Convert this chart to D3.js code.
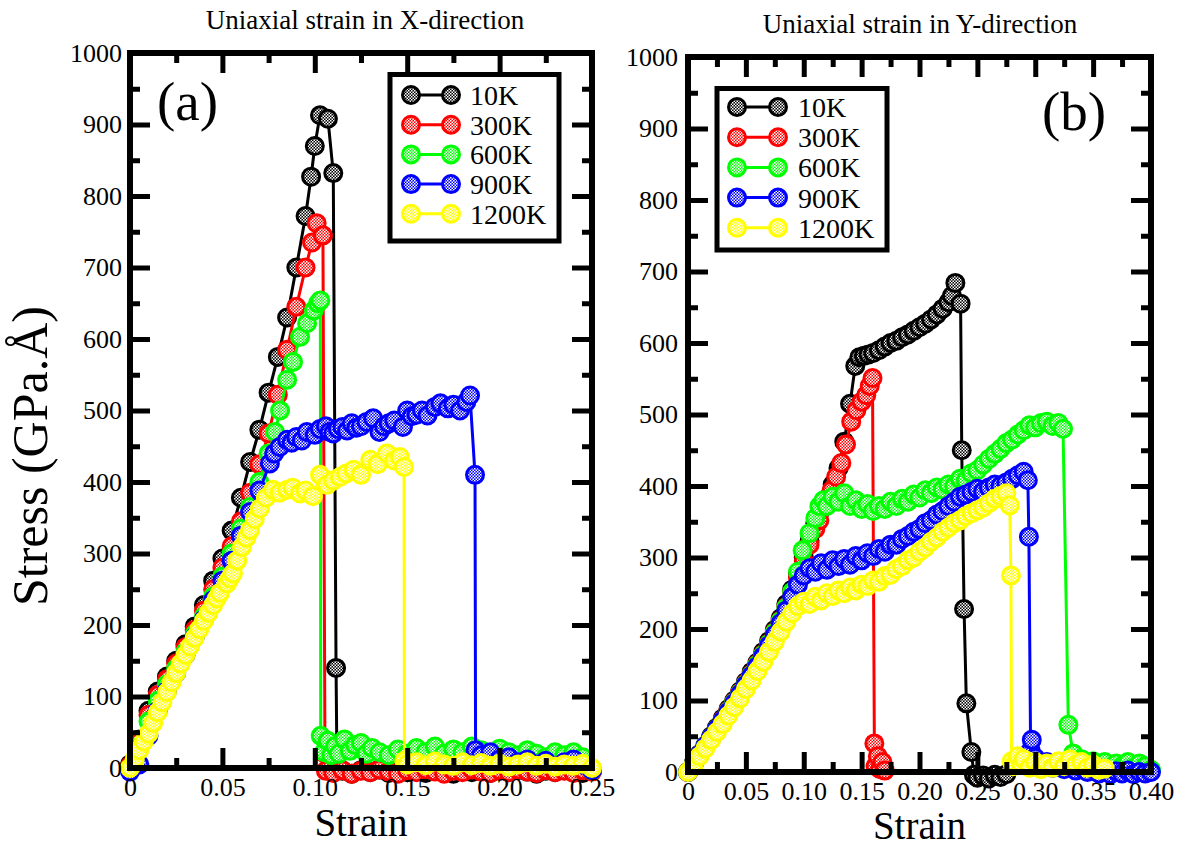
<!DOCTYPE html>
<html><head><meta charset="utf-8">
<script src="https://cdn.jsdelivr.net/npm/d3@7"></script>
<style>
body{margin:0;background:#fff}
svg{display:block}
text{font-family:"Liberation Serif","Times New Roman",serif;fill:#000}
</style>
</head><body>
<svg id="c" width="1181" height="847"></svg>
<script>
// ---------- data ----------
const seriesNames = ["10K","300K","600K","900K","1200K"];
const seriesColors = ["#000000","#ff0000","#00ff00","#0000ff","#ffff00"];
const yMajor = [0,100,200,300,400,500,600,700,800,900,1000];
const yMinor = [50,150,250,350,450,550,650,750,850,950];
const xMajorA = [0,0.05,0.10,0.15,0.20,0.25];
const xLabelsA = ["0","0.05","0.10","0.15","0.20","0.25"];
const xMinorA = [0.025,0.075,0.125,0.175,0.225];
const xMajorB = [0,0.05,0.10,0.15,0.20,0.25,0.30,0.35,0.40];
const xLabelsB = ["0","0.05","0.10","0.15","0.20","0.25","0.30","0.35","0.40"];
const xMinorB = [0.025,0.075,0.125,0.175,0.225,0.275,0.325,0.375];

// Panel (a): strain in X-direction  [strain, stress]
const a10K = [[0,5],[0.005,40],[0.01,80],[0.015,107],[0.02,128],[0.025,150],[0.03,173],[0.035,198],[0.04,228],[0.045,262],[0.05,293],[0.055,332],[0.06,378],[0.065,428],[0.07,473],[0.075,525],[0.08,575],[0.085,630],[0.09,700],[0.095,772],[0.098,827],[0.1,870],[0.1028,913],[0.1071,908],[0.11,832],[0.1115,140],[0.112,3],[0.115,-4],[0.12,-8],[0.125,-3],[0.13,-6],[0.135,-2],[0.14,-7],[0.145,-4],[0.15,-6],[0.155,-3],[0.16,-7],[0.165,-2],[0.17,-5],[0.175,-8],[0.18,-4],[0.185,-6],[0.19,-3],[0.195,-7],[0.2,-4],[0.205,-6],[0.21,-3],[0.215,-5],[0.22,-8],[0.225,-4],[0.23,-6],[0.235,-3],[0.24,-5],[0.245,-7],[0.25,-4]];
const a300K = [[0,3],[0.005,36],[0.01,74],[0.015,102],[0.02,124],[0.025,146],[0.03,169],[0.035,193],[0.04,220],[0.045,250],[0.05,280],[0.055,310],[0.06,345],[0.065,385],[0.07,425],[0.075,468],[0.08,522],[0.085,585],[0.09,645],[0.095,700],[0.0985,735],[0.101,762],[0.1044,745],[0.1055,20],[0.106,-4],[0.11,-7],[0.115,-3],[0.12,-8],[0.125,-4],[0.13,-6],[0.135,-2],[0.14,-5],[0.145,-8],[0.15,-3],[0.155,-6],[0.16,-2],[0.165,-5],[0.17,-8],[0.175,-4],[0.18,-6],[0.185,-2],[0.19,-5],[0.195,-7],[0.2,-3],[0.205,-6],[0.21,-2],[0.215,-5],[0.22,-7],[0.225,-3],[0.23,-6],[0.235,-4],[0.24,-7],[0.245,-3],[0.25,-5]];
const a600K = [[0,0],[0.005,30],[0.01,65],[0.015,94],[0.02,117],[0.025,139],[0.03,162],[0.035,187],[0.04,212],[0.045,240],[0.05,268],[0.055,300],[0.06,335],[0.065,365],[0.07,400],[0.075,440],[0.0785,470],[0.0812,500],[0.085,543],[0.0882,568],[0.092,603],[0.0958,622],[0.0995,640],[0.1017,650],[0.103,654],[0.1032,45],[0.105,22],[0.107,38],[0.109,18],[0.111,30],[0.113,20],[0.116,40],[0.119,24],[0.122,32],[0.125,35],[0.128,20],[0.131,28],[0.135,22],[0.14,18],[0.145,26],[0.15,20],[0.155,28],[0.16,22],[0.165,30],[0.17,20],[0.175,26],[0.18,22],[0.185,30],[0.19,25],[0.195,19],[0.2,27],[0.205,22],[0.21,18],[0.215,25],[0.22,20],[0.225,15],[0.23,22],[0.235,18],[0.24,22],[0.245,15],[0.25,-3]];
const a900K = [[0,-5],[0.005,5],[0.01,45],[0.015,80],[0.02,108],[0.025,133],[0.03,158],[0.035,183],[0.04,208],[0.045,235],[0.05,262],[0.055,290],[0.06,325],[0.065,358],[0.07,388],[0.0757,426],[0.078,440],[0.081,449],[0.085,459],[0.0875,455],[0.09,463],[0.093,458],[0.0957,470],[0.1,466],[0.1028,474],[0.106,478],[0.108,470],[0.11,468],[0.1125,474],[0.115,477],[0.1175,472],[0.12,482],[0.1225,476],[0.125,478],[0.128,484],[0.1316,489],[0.135,470],[0.1375,478],[0.14,482],[0.143,486],[0.1477,477],[0.15,500],[0.1525,492],[0.155,494],[0.158,500],[0.161,493],[0.165,505],[0.168,510],[0.172,503],[0.175,508],[0.1786,500],[0.182,512],[0.184,521],[0.1867,410],[0.187,25],[0.19,18],[0.195,22],[0.2,12],[0.205,15],[0.21,8],[0.215,12],[0.22,5],[0.225,10],[0.23,3],[0.235,8],[0.24,12],[0.245,5],[0.25,-3]];
const a1200K = [[0,0],[0.0025,12],[0.005,25],[0.0075,37],[0.01,48],[0.0125,63],[0.015,78],[0.0175,92],[0.02,106],[0.0225,120],[0.025,133],[0.0275,146],[0.03,158],[0.0325,170],[0.035,182],[0.0375,194],[0.04,206],[0.0425,217],[0.045,228],[0.047,237],[0.0487,245],[0.0525,258],[0.054,265],[0.0557,272],[0.058,290],[0.0606,309],[0.063,322],[0.065,333],[0.0675,348],[0.0703,363],[0.0735,378],[0.0774,389],[0.081,385],[0.085,389],[0.088,392],[0.092,384],[0.095,388],[0.099,380],[0.1028,410],[0.1066,396],[0.11,402],[0.1136,407],[0.117,412],[0.121,417],[0.125,410],[0.13,431],[0.134,425],[0.139,440],[0.143,430],[0.146,435],[0.1483,421],[0.1485,10],[0.15,5],[0.155,8],[0.16,4],[0.165,9],[0.17,5],[0.175,3],[0.18,8],[0.185,4],[0.19,7],[0.195,3],[0.2,6],[0.205,2],[0.21,5],[0.215,8],[0.22,3],[0.225,6],[0.23,2],[0.235,5],[0.24,3],[0.245,6],[0.25,0]];

// Panel (b): strain in Y-direction  [strain, stress]
const b10K = [[0,0],[0.005,12],[0.01,25],[0.015,37],[0.02,50],[0.025,62],[0.03,75],[0.035,88],[0.04,100],[0.045,113],[0.05,126],[0.055,140],[0.06,153],[0.065,168],[0.07,183],[0.075,199],[0.08,215],[0.085,235],[0.09,255],[0.095,277],[0.1,300],[0.105,323],[0.11,348],[0.115,367],[0.12,382],[0.125,402],[0.13,425],[0.135,462],[0.14,515],[0.1445,568],[0.148,580],[0.152,582],[0.156,584],[0.16,586],[0.165,590],[0.17,595],[0.175,600],[0.18,603],[0.185,608],[0.19,612],[0.195,617],[0.2,622],[0.205,627],[0.21,633],[0.215,640],[0.22,648],[0.225,657],[0.228,666],[0.231,684],[0.2355,655],[0.2365,450],[0.2385,228],[0.2405,96],[0.2448,28],[0.247,-4],[0.25,-8],[0.255,-5],[0.26,-9],[0.265,-4],[0.27,-7],[0.275,-3]];
const b300K = [[0,0],[0.005,12],[0.01,24],[0.015,36],[0.02,48],[0.025,60],[0.03,73],[0.035,86],[0.04,98],[0.045,111],[0.05,124],[0.055,137],[0.06,151],[0.065,165],[0.07,180],[0.075,196],[0.08,212],[0.085,231],[0.09,251],[0.095,272],[0.1,295],[0.105,318],[0.11,340],[0.1135,352],[0.119,376],[0.124,394],[0.128,413],[0.1325,432],[0.1365,458],[0.141,490],[0.1455,506],[0.15,518],[0.154,527],[0.157,540],[0.1594,551],[0.161,40],[0.162,8],[0.164,22],[0.166,4],[0.168,14],[0.17,2]];
const b600K = [[0,0],[0.005,12],[0.01,24],[0.015,36],[0.02,48],[0.025,60],[0.03,72],[0.035,85],[0.04,97],[0.045,110],[0.05,123],[0.055,136],[0.06,150],[0.065,164],[0.07,179],[0.075,195],[0.08,211],[0.085,230],[0.09,252],[0.095,280],[0.099,310],[0.105,334],[0.11,355],[0.1135,372],[0.117,380],[0.12,372],[0.125,385],[0.13,378],[0.135,390],[0.14,372],[0.145,380],[0.15,368],[0.155,375],[0.16,365],[0.165,372],[0.17,368],[0.175,378],[0.18,372],[0.185,382],[0.19,378],[0.195,388],[0.2,384],[0.205,394],[0.21,390],[0.215,398],[0.22,395],[0.225,402],[0.23,400],[0.235,410],[0.24,408],[0.245,418],[0.25,422],[0.255,430],[0.26,438],[0.265,445],[0.27,452],[0.275,460],[0.28,465],[0.285,472],[0.29,478],[0.295,485],[0.3,482],[0.305,488],[0.31,490],[0.315,484],[0.32,488],[0.324,480],[0.3286,66],[0.3327,26],[0.335,12],[0.34,18],[0.345,10],[0.35,15],[0.355,8],[0.36,14],[0.365,6],[0.37,12],[0.375,8],[0.38,14],[0.385,6],[0.39,12],[0.395,8],[0.4,3]];
const b900K = [[0,0],[0.005,12],[0.01,24],[0.015,36],[0.02,48],[0.025,60],[0.03,72],[0.035,84],[0.04,96],[0.045,109],[0.05,122],[0.055,135],[0.06,148],[0.065,162],[0.07,177],[0.075,192],[0.08,208],[0.085,226],[0.09,245],[0.095,262],[0.1,275],[0.105,285],[0.11,280],[0.115,292],[0.12,283],[0.125,296],[0.13,288],[0.135,298],[0.14,290],[0.145,302],[0.15,296],[0.155,306],[0.16,302],[0.165,312],[0.17,308],[0.175,318],[0.18,318],[0.185,326],[0.19,330],[0.195,336],[0.2,340],[0.205,348],[0.21,352],[0.215,360],[0.22,365],[0.225,372],[0.23,378],[0.235,385],[0.24,388],[0.245,392],[0.25,396],[0.255,392],[0.26,398],[0.265,402],[0.27,400],[0.275,405],[0.28,410],[0.285,415],[0.29,420],[0.2936,408],[0.2945,329],[0.296,30],[0.297,45],[0.298,15],[0.3,20],[0.305,10],[0.31,14],[0.315,6],[0.32,10],[0.325,4],[0.33,8],[0.335,2],[0.34,6],[0.345,0],[0.35,4],[0.355,-2],[0.36,2],[0.365,-3],[0.37,1],[0.375,-2],[0.38,2],[0.385,-3],[0.39,0],[0.395,-2],[0.4,0]];
const b1200K = [[0,0],[0.005,10],[0.01,22],[0.015,33],[0.02,45],[0.025,56],[0.03,67],[0.035,79],[0.04,91],[0.045,103],[0.05,116],[0.055,128],[0.06,141],[0.065,154],[0.07,168],[0.075,182],[0.08,196],[0.085,210],[0.09,222],[0.095,232],[0.1,238],[0.105,235],[0.11,245],[0.115,240],[0.12,250],[0.125,246],[0.13,254],[0.135,250],[0.14,258],[0.145,254],[0.15,262],[0.155,260],[0.16,268],[0.165,266],[0.17,274],[0.175,276],[0.18,284],[0.185,288],[0.19,296],[0.195,300],[0.2,308],[0.205,314],[0.21,322],[0.215,328],[0.22,336],[0.225,342],[0.23,348],[0.235,352],[0.24,358],[0.245,362],[0.25,366],[0.255,370],[0.26,376],[0.265,382],[0.27,386],[0.275,390],[0.278,373],[0.279,275],[0.2795,15],[0.281,8],[0.285,22],[0.288,10],[0.29,18],[0.295,6],[0.3,14],[0.305,4],[0.31,12],[0.315,6],[0.32,15],[0.325,8],[0.33,18],[0.335,10],[0.34,14],[0.345,6],[0.35,10],[0.355,3],[0.36,5]];

// ---------- drawing ----------
const svg = d3.select("#c");
const defs = svg.append("defs");
seriesColors.forEach((c,i)=>{
  const p = defs.append("pattern").attr("id","pat"+i)
    .attr("patternUnits","userSpaceOnUse").attr("width",3).attr("height",3);
  p.append("rect").attr("width",3).attr("height",3).attr("fill",c);
  p.append("rect").attr("x",0).attr("y",0).attr("width",1.5).attr("height",1.5).attr("fill","#fff");
  p.append("rect").attr("x",1.5).attr("y",1.5).attr("width",1.5).attr("height",1.5).attr("fill","#fff");
});

const MR = 8.5;

function drawPanel(o){
  const x = d3.scaleLinear().domain([0,o.xmax]).range([o.left,o.right]);
  const y = d3.scaleLinear().domain([0,1000]).range([o.bottom,o.top]);
  const g = svg.append("g");
  const line = d3.line().x(d=>x(d[0])).y(d=>y(d[1]));

  o.series.forEach((s,i)=>{
    const sg = g.append("g");
    sg.append("path").datum(s).attr("d",line).attr("fill","none")
      .attr("stroke",seriesColors[i]).attr("stroke-width",3).attr("stroke-linejoin","round");
    sg.selectAll("circle").data(s).enter().append("circle")
      .attr("cx",d=>x(d[0])).attr("cy",d=>y(d[1])).attr("r",MR)
      .attr("fill","url(#pat"+i+")").attr("stroke",seriesColors[i]).attr("stroke-width",3);
  });

  function styleAxis(a){
    a.select(".domain").remove();
    a.selectAll(".tick line").attr("stroke","#000").attr("stroke-width",5);
    a.selectAll(".tick text").attr("font-size",26).attr("font-family","Liberation Serif, serif").attr("fill","#000");
    return a;
  }
  styleAxis(g.append("g").attr("transform",`translate(0,${o.bottom})`)
    .call(d3.axisBottom(x).tickValues(o.xMajor).tickSize(-20).tickPadding(10).tickFormat((d,i)=>o.xLabels[i])));
  styleAxis(g.append("g").attr("transform",`translate(0,${o.bottom})`)
    .call(d3.axisBottom(x).tickValues(o.xMinor).tickSize(-10).tickFormat("")));
  styleAxis(g.append("g").attr("transform",`translate(0,${o.top})`)
    .call(d3.axisTop(x).tickValues(o.xMajor).tickSize(-20).tickFormat("")));
  styleAxis(g.append("g").attr("transform",`translate(0,${o.top})`)
    .call(d3.axisTop(x).tickValues(o.xMinor).tickSize(-10).tickFormat("")));
  styleAxis(g.append("g").attr("transform",`translate(${o.left},0)`)
    .call(d3.axisLeft(y).tickValues(yMajor).tickSize(-20).tickPadding(o.ypad).tickFormat(d3.format("d"))));
  styleAxis(g.append("g").attr("transform",`translate(${o.left},0)`)
    .call(d3.axisLeft(y).tickValues(yMinor).tickSize(-10).tickFormat("")));
  styleAxis(g.append("g").attr("transform",`translate(${o.right},0)`)
    .call(d3.axisRight(y).tickValues(yMajor).tickSize(-20).tickFormat("")));
  styleAxis(g.append("g").attr("transform",`translate(${o.right},0)`)
    .call(d3.axisRight(y).tickValues(yMinor).tickSize(-10).tickFormat("")));

  g.append("rect").attr("x",o.left).attr("y",o.top)
    .attr("width",o.right-o.left).attr("height",o.bottom-o.top)
    .attr("fill","none").attr("stroke","#000").attr("stroke-width",6);

  g.append("text").attr("x",o.titleX).attr("y",o.titleY).attr("text-anchor","middle")
    .attr("font-size",27).text(o.title);
  g.append("text").attr("x",(o.left+o.right)/2).attr("y",o.xlabY).attr("text-anchor","middle")
    .attr("font-size",39).text("Strain");
  g.append("text").attr("x",o.tagX).attr("y",o.tagY).attr("font-size",55).text(o.tag);

  const L = o.legend;
  const lg = g.append("g");
  lg.append("rect").attr("x",L.x).attr("y",L.y).attr("width",L.w).attr("height",L.h)
    .attr("fill","#fff").attr("stroke","#000").attr("stroke-width",5);
  seriesNames.forEach((n,i)=>{
    const yy = L.y0 + i*L.dy;
    lg.append("line").attr("x1",L.c1).attr("x2",L.c2).attr("y1",yy).attr("y2",yy)
      .attr("stroke",seriesColors[i]).attr("stroke-width",3);
    [L.c1,L.c2].forEach(cx=>{
      lg.append("circle").attr("cx",cx).attr("cy",yy).attr("r",MR)
        .attr("fill","url(#pat"+i+")").attr("stroke",seriesColors[i]).attr("stroke-width",3);
    });
    lg.append("text").attr("x",L.tx).attr("y",yy+10).attr("font-size",28).text(n);
  });
}

drawPanel({
  left:130, right:592, top:53, bottom:768, xmax:0.25,
  xMajor:xMajorA, xLabels:xLabelsA, xMinor:xMinorA, ypad:8,
  series:[a10K,a300K,a600K,a900K,a1200K],
  title:"Uniaxial strain in X-direction", titleX:365, titleY:29,
  xlabY:836, tag:"(a)", tagX:157, tagY:120,
  legend:{x:390,y:74.5,w:169,h:166.5,y0:95,dy:29.7,c1:411,c2:451,tx:470}
});
drawPanel({
  left:688, right:1151, top:57, bottom:772, xmax:0.40,
  xMajor:xMajorB, xLabels:xLabelsB, xMinor:xMinorB, ypad:10,
  series:[b10K,b300K,b600K,b900K,b1200K],
  title:"Uniaxial strain in Y-direction", titleX:920, titleY:33,
  xlabY:839, tag:"(b)", tagX:1042, tagY:130,
  legend:{x:717,y:88.5,w:170,h:161.5,y0:107,dy:30.2,c1:737,c2:778,tx:798}
});

svg.append("text").attr("transform","translate(47,456) rotate(-90)")
  .attr("text-anchor","middle").attr("font-size",50)
  .text("Stress (GPa.Å)");
</script>
</body></html>
